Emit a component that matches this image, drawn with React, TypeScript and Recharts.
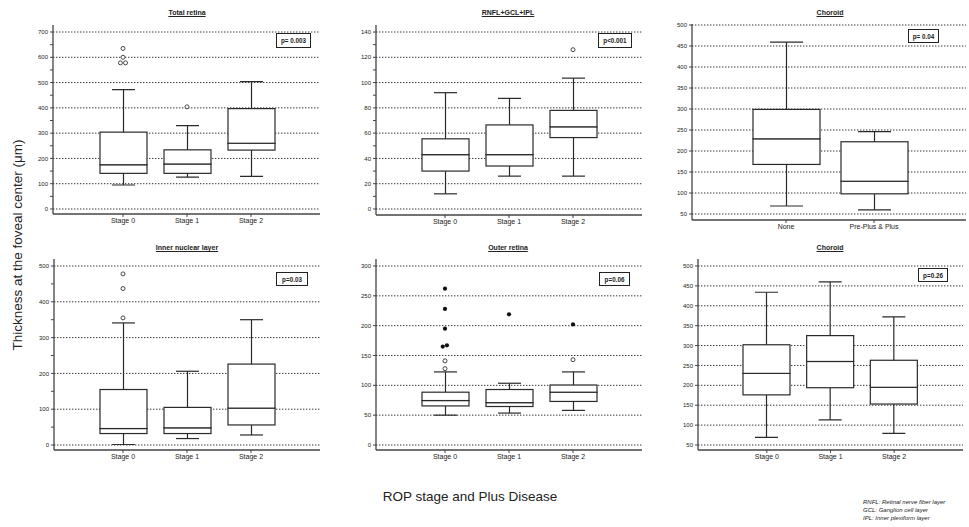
import React from 'react';
import { ComposedChart, Bar, Scatter, XAxis, YAxis, CartesianGrid } from 'recharts';

const F = '"Liberation Sans", Arial, Helvetica, sans-serif';

type Box = [number, number, number, number, number]; // min, q1, median, q3, max

// ---- categories ----
const stageCats = ['Stage 0', 'Stage 1', 'Stage 2'];
const plusCats = ['None', 'Pre-Plus & Plus'];

// ---- Total retina ----
const totalRetinaBoxes: Box[] = [
  [95, 141, 175, 304, 472],
  [126, 141, 178, 234, 330],
  [129, 233, 260, 397, 504],
];
const totalRetinaOpen: [number, number][] = [[0, 635], [0, 600], [0, 578], [0, 578], [1, 404]];
const totalRetinaMajors = [0, 100, 200, 300, 400, 500, 600, 700];
const totalRetinaMinors = [50, 150, 250, 350, 450, 550, 650];

// ---- RNFL+GCL+IPL ----
const rnflBoxes: Box[] = [
  [12, 30, 43, 55.5, 92],
  [26, 34, 43, 66.5, 87.5],
  [26, 56.5, 65, 78, 103.5],
];
const rnflOpen: [number, number][] = [[2, 126]];
const rnflMajors = [0, 20, 40, 60, 80, 100, 120, 140];
const rnflMinors = [10, 30, 50, 70, 90, 110, 130];

// ---- Choroid (plus disease) ----
const choroidPlusBoxes: Box[] = [
  [69, 168, 229, 299, 459],
  [60, 98, 128, 222, 246],
];
const choroidMajors = [50, 100, 150, 200, 250, 300, 350, 400, 450, 500];

// ---- Inner nuclear layer ----
const inlBoxes: Box[] = [
  [1, 32, 46, 155, 341],
  [18, 32, 48, 105, 206],
  [28, 56, 103, 226, 350],
];
const inlOpen: [number, number][] = [[0, 478], [0, 437], [0, 355]];
const inlMajors = [0, 100, 200, 300, 400, 500];
const inlMinors = [50, 150, 250, 350, 450];

// ---- Outer retina ----
const outerBoxes: Box[] = [
  [50, 65.5, 74.5, 88.5, 122.5],
  [53.5, 64.5, 71, 93, 103.5],
  [58, 73, 88.5, 100.5, 122.5],
];
const outerOpen: [number, number][] = [[0, 141], [0, 128], [2, 143]];
const outerFilled: [number, number][] = [[0, 262], [0, 228], [0, 195], [0, 165], [0, 167], [1, 219], [2, 202]];
const outerMajors = [0, 50, 100, 150, 200, 250, 300];

// ---- Choroid (stage) ----
const choroidStageBoxes: Box[] = [
  [69, 176, 230, 302, 434],
  [113, 194, 260, 325, 460],
  [79, 153, 195, 263, 372],
];

type Cfg = {
  title: string; p: string; cats: string[]; boxes: Box[];
  open: [number, number][]; openJit: number[];
  filled: [number, number][]; filledJit: number[];
  majors: number[]; minors: number[]; domain: [number, number];
  plot: [number, number, number, number];
  yPad: [number, number]; xPad: [number, number];
  barW: number; capW: number; titleX: number; titleY: number;
  pBox: [number, number, number, number]; pBorder: number;
};

const panels: Cfg[] = [
  {
    title: 'Total retina', p: 'p= 0.003', cats: stageCats, boxes: totalRetinaBoxes,
    open: totalRetinaOpen, openJit: [0, 0, -0.04, 0.04, 0], filled: [], filledJit: [],
    majors: totalRetinaMajors, minors: totalRetinaMinors, domain: [0, 700],
    plot: [53, 25, 320, 214], yPad: [7, 5], xPad: [38, 37], barW: 47, capW: 23,
    titleX: 187, titleY: 13, pBox: [276, 33, 35, 15], pBorder: 1.3,
  },
  {
    title: 'RNFL+GCL+IPL', p: 'p<0.001', cats: stageCats, boxes: rnflBoxes,
    open: rnflOpen, openJit: [0], filled: [], filledJit: [],
    majors: rnflMajors, minors: rnflMinors, domain: [0, 140],
    plot: [376, 25, 642, 215], yPad: [7, 6], xPad: [37, 37], barW: 47, capW: 23,
    titleX: 508, titleY: 13, pBox: [598, 33, 34, 15], pBorder: 1.3,
  },
  {
    title: 'Choroid', p: 'p= 0.04', cats: plusCats, boxes: choroidPlusBoxes,
    open: [], openJit: [], filled: [], filledJit: [],
    majors: choroidMajors, minors: [], domain: [50, 500],
    plot: [692, 24, 966, 220], yPad: [1, 6], xPad: [50, 48], barW: 67, capW: 33,
    titleX: 830, titleY: 13, pBox: [908, 29, 31, 14], pBorder: 1.3,
  },
  {
    title: 'Inner nuclear layer', p: 'p=0.03', cats: stageCats, boxes: inlBoxes,
    open: inlOpen, openJit: [0, 0, 0], filled: [], filledJit: [],
    majors: inlMajors, minors: inlMinors, domain: [0, 500],
    plot: [54, 259, 320, 450], yPad: [7, 5], xPad: [37, 37], barW: 47, capW: 23,
    titleX: 187, titleY: 248, pBox: [276, 272, 32, 14], pBorder: 1.3,
  },
  {
    title: 'Outer retina', p: 'p=0.06', cats: stageCats, boxes: outerBoxes,
    open: outerOpen, openJit: [0, 0, 0], filled: outerFilled, filledJit: [0, 0, 0, -0.035, 0.03, 0, 0],
    majors: outerMajors, minors: [], domain: [0, 300],
    plot: [376, 259, 642, 450], yPad: [7, 5], xPad: [37, 37], barW: 47, capW: 23,
    titleX: 508, titleY: 248, pBox: [599, 272, 31, 14], pBorder: 1,
  },
  {
    title: 'Choroid', p: 'p=0.26', cats: stageCats, boxes: choroidStageBoxes,
    open: [], openJit: [], filled: [], filledJit: [],
    majors: choroidMajors, minors: [], domain: [50, 500],
    plot: [698, 259, 963, 450], yPad: [7, 5], xPad: [37, 37], barW: 47, capW: 23,
    titleX: 830, titleY: 248, pBox: [918, 268, 30, 14], pBorder: 1.3,
  },
];

const LINE = '#2a2a2a';
const SW = 1.2;

function Panel({ c }: { c: Cfg }) {
  const [pl, pt, pr, pb] = c.plot;
  const YW = 30, XH = 20;
  const L = pl - YW - 4;
  const T = pt - 4;
  const R = Math.min(pr + 2, 969);
  const W = R - L;
  const H = pb + XH + 2 - T;
  const n = c.cats.length;
  const rows = c.boxes.map((b, i) => ({
    cat: c.cats[i], base: b[0], lw: b[1] - b[0], lb: b[2] - b[1], ub: b[3] - b[2], uw: b[4] - b[3],
  }));
  const open = c.open.map(([g, v], i) => ({ x: g + 1 + (c.openJit[i] || 0), y: v }));
  const filled = c.filled.map(([g, v], i) => ({ x: g + 1 + (c.filledJit[i] || 0), y: v }));
  const yTicks = [...c.majors, ...c.minors].sort((a, b) => a - b);
  const capW = c.capW;

  const Empty = () => <g />;
  const LowWhisker = (p: any) => {
    const cx = p.x + p.width / 2;
    const yb = p.y + p.height;
    return (
      <g>
        <line x1={cx} x2={cx} y1={p.y} y2={yb} stroke={LINE} strokeWidth={SW} />
        <line x1={cx - capW / 2} x2={cx + capW / 2} y1={yb} y2={yb} stroke={LINE} strokeWidth={SW} />
      </g>
    );
  };
  const UpWhisker = (p: any) => {
    const cx = p.x + p.width / 2;
    return (
      <g>
        <line x1={cx} x2={cx} y1={p.y} y2={p.y + p.height} stroke={LINE} strokeWidth={SW} />
        <line x1={cx - capW / 2} x2={cx + capW / 2} y1={p.y} y2={p.y} stroke={LINE} strokeWidth={SW} />
      </g>
    );
  };
  const BoxPart = (p: any) => (
    <rect x={p.x} y={p.y} width={p.width} height={p.height} fill="#fff" stroke={LINE} strokeWidth={SW} />
  );
  const OpenDot = (p: any) => <circle cx={p.cx} cy={p.cy} r={2} fill="#fff" stroke="#333" strokeWidth={0.9} />;
  const FilledDot = (p: any) => <circle cx={p.cx} cy={p.cy} r={2.1} fill="#111" stroke="none" />;

  return (
    <>
      <div style={{ position: 'absolute', left: L, top: T }}>
        <ComposedChart
          width={W}
          height={H}
          data={rows}
          margin={{ top: pt - T, right: R - pr, bottom: T + H - XH - pb, left: pl - L - YW }}
        >
          <CartesianGrid
            vertical={false}
            horizontalValues={c.majors}
            stroke="#333"
            strokeDasharray="1.4 1.6"
            strokeWidth={1}
          />
          <XAxis
            type="category"
            dataKey="cat"
            interval={0}
            padding={{ left: c.xPad[0], right: c.xPad[1] }}
            height={XH}
            tickSize={3}
            tickMargin={1}
            tick={{ fontSize: 7, fill: '#222', fontFamily: F }}
            axisLine={{ stroke: '#444', strokeWidth: 1.3 }}
            tickLine={{ stroke: '#444', strokeWidth: 1 }}
          />
          <XAxis
            xAxisId="num"
            type="number"
            dataKey="x"
            hide
            domain={[0.5, n + 0.5]}
            allowDataOverflow
            padding={{ left: c.xPad[0], right: c.xPad[1] }}
          />
          <YAxis
            type="number"
            domain={c.domain}
            ticks={yTicks}
            interval={0}
            allowDataOverflow
            padding={{ top: c.yPad[0], bottom: c.yPad[1] }}
            tickFormatter={(v: number) => (c.majors.includes(v) ? String(v) : '')}
            width={YW}
            tickSize={3}
            tickMargin={2}
            tick={{ fontSize: 6, fill: '#222', fontFamily: F }}
            axisLine={{ stroke: '#444', strokeWidth: 1.3 }}
            tickLine={{ stroke: '#444', strokeWidth: 1 }}
          />
          <Bar dataKey="base" stackId="b" barSize={c.barW} shape={Empty} isAnimationActive={false} />
          <Bar dataKey="lw" stackId="b" barSize={c.barW} shape={LowWhisker} isAnimationActive={false} />
          <Bar dataKey="lb" stackId="b" barSize={c.barW} shape={BoxPart} isAnimationActive={false} />
          <Bar dataKey="ub" stackId="b" barSize={c.barW} shape={BoxPart} isAnimationActive={false} />
          <Bar dataKey="uw" stackId="b" barSize={c.barW} shape={UpWhisker} isAnimationActive={false} />
          {open.length > 0 && (
            <Scatter xAxisId="num" data={open} dataKey="y" shape={OpenDot} isAnimationActive={false} />
          )}
          {filled.length > 0 && (
            <Scatter xAxisId="num" data={filled} dataKey="y" shape={FilledDot} isAnimationActive={false} />
          )}
        </ComposedChart>
      </div>
      <div
        style={{
          position: 'absolute', left: c.titleX - 60, top: c.titleY - 5, width: 120, textAlign: 'center',
          fontFamily: F, fontSize: 7, fontWeight: 'bold', textDecoration: 'underline', lineHeight: '9px', color: '#222',
        }}
      >
        {c.title}
      </div>
      <div
        style={{
          position: 'absolute', left: c.pBox[0], top: c.pBox[1], width: c.pBox[2], height: c.pBox[3],
          boxSizing: 'border-box', border: `${c.pBorder}px solid #222`, background: '#fff',
          display: 'flex', alignItems: 'center', justifyContent: 'center',
          fontFamily: F, fontSize: 6.3, fontWeight: 'bold', color: '#222', whiteSpace: 'nowrap',
        }}
      >
        {c.p}
      </div>
    </>
  );
}

export default function App() {
  return (
    <div style={{ position: 'fixed', left: 0, top: 0, width: 969, height: 527, overflow: 'hidden', background: '#fff' }}>
      {panels.map((c, i) => (
        <Panel key={i} c={c} />
      ))}
      <div
        style={{
          position: 'absolute', left: 18 - 150, top: 245 - 10, width: 300, height: 20, lineHeight: '20px',
          textAlign: 'center', transform: 'rotate(-90deg)', fontFamily: F, fontSize: 13.5, color: '#222', whiteSpace: 'nowrap',
        }}
      >
        Thickness at the foveal center (μm)
      </div>
      <div
        style={{
          position: 'absolute', left: 470 - 150, top: 497 - 10, width: 300, height: 20, lineHeight: '20px',
          textAlign: 'center', fontFamily: F, fontSize: 13.5, color: '#222', whiteSpace: 'nowrap',
        }}
      >
        ROP stage and Plus Disease
      </div>
      <div
        style={{
          position: 'absolute', left: 863, top: 498, fontFamily: F, fontSize: 6, fontStyle: 'italic',
          lineHeight: '8px', color: '#222', whiteSpace: 'nowrap',
        }}
      >
        <div>RNFL: Retinal nerve fiber layer</div>
        <div>GCL: Ganglion cell layer</div>
        <div>IPL: Inner plexiform layer</div>
      </div>
    </div>
  );
}
